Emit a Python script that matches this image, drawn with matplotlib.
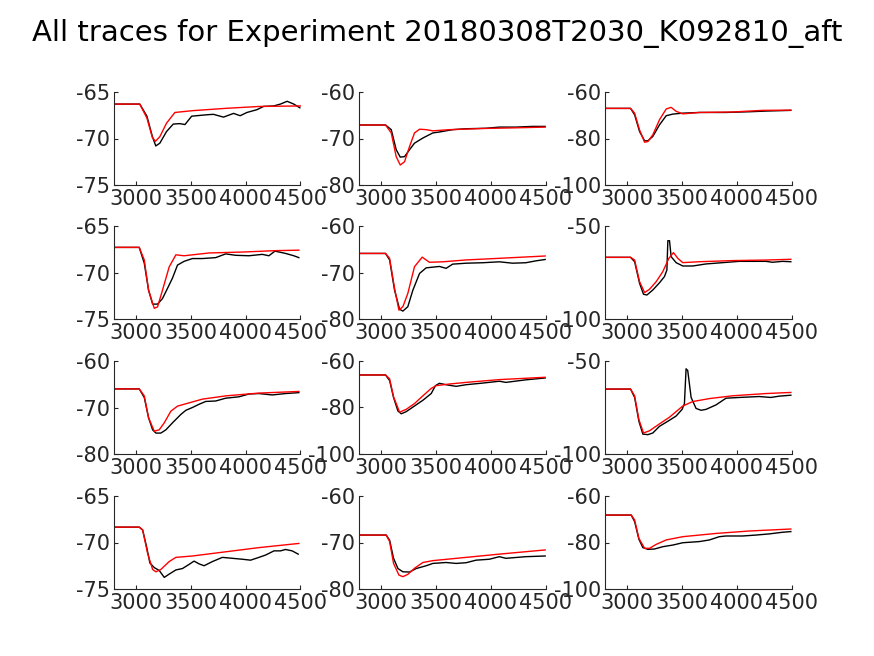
import numpy as np
import matplotlib
matplotlib.use('Agg')
import matplotlib.pyplot as plt

plt.rcParams['axes.unicode_minus'] = False

# x-limits and y-limits per panel (row-major, 4 x 3)
xlims = (2800, 4500)
xticks = [3000, 3500, 4000, 4500]
ylims = [(-75, -65), (-80, -60), (-100, -60),
         (-75, -65), (-80, -60), (-100, -50),
         (-80, -60), (-100, -60), (-100, -50),
         (-75, -65), (-80, -60), (-100, -60)]
yticks = [[-75, -70, -65], [-80, -70, -60], [-100, -80, -60],
          [-75, -70, -65], [-80, -70, -60], [-100, -50],
          [-80, -70, -60], [-100, -80, -60], [-100, -50],
          [-75, -70, -65], [-80, -70, -60], [-100, -80, -60]]

# recorded traces (black)
data_x = [
    [2800, 3035, 3100, 3150, 3181, 3218, 3279, 3340, 3400, 3447, 3508, 3645, 3706, 3798, 3890, 3950, 4012, 4103, 4164, 4256, 4317, 4378, 4439, 4494],
    [2800, 3042, 3094, 3139, 3176, 3215, 3261, 3306, 3382, 3473, 3533, 3654, 3776, 3957, 4079, 4230, 4382, 4497],
    [2800, 3033, 3070, 3115, 3161, 3191, 3236, 3297, 3358, 3418, 3509, 3661, 3903, 4115, 4267, 4494],
    [2800, 3030, 3076, 3115, 3152, 3197, 3242, 3288, 3333, 3379, 3439, 3515, 3606, 3727, 3818, 3909, 4030, 4152, 4212, 4267, 4364, 4439, 4485],
    [2800, 3042, 3079, 3124, 3170, 3200, 3245, 3291, 3352, 3412, 3533, 3594, 3654, 3776, 3927, 4079, 4200, 4321, 4412, 4497],
    [2800, 3033, 3070, 3115, 3151, 3182, 3236, 3297, 3342, 3364, 3373, 3388, 3403, 3448, 3509, 3600, 3721, 3873, 4024, 4267, 4327, 4418, 4494],
    [2800, 3030, 3076, 3115, 3152, 3182, 3227, 3273, 3333, 3409, 3455, 3515, 3576, 3636, 3727, 3818, 3939, 4030, 4121, 4242, 4364, 4485],
    [2800, 3042, 3079, 3115, 3155, 3185, 3230, 3306, 3382, 3458, 3497, 3533, 3594, 3685, 3776, 3927, 4079, 4139, 4321, 4497],
    [2800, 3033, 3070, 3109, 3145, 3191, 3236, 3297, 3373, 3448, 3503, 3524, 3539, 3554, 3585, 3630, 3676, 3721, 3812, 3903, 4024, 4206, 4312, 4388, 4494],
    [2800, 3030, 3061, 3097, 3127, 3167, 3212, 3258, 3303, 3364, 3424, 3485, 3530, 3576, 3621, 3697, 3788, 3879, 3970, 4045, 4121, 4182, 4258, 4318, 4364, 4424, 4479],
    [2800, 3048, 3079, 3115, 3155, 3200, 3261, 3321, 3412, 3473, 3594, 3685, 3776, 3867, 3988, 4079, 4139, 4321, 4497],
    [2800, 3039, 3070, 3109, 3145, 3191, 3251, 3327, 3418, 3509, 3661, 3752, 3842, 3903, 4054, 4176, 4297, 4418, 4494],
]
data_y = [
    [-66.3, -66.3, -67.6, -69.8, -70.8, -70.5, -69.25, -68.45, -68.4, -68.5, -67.6, -67.45, -67.4, -67.7, -67.3, -67.55, -67.2, -66.9, -66.55, -66.5, -66.3, -66.0, -66.3, -66.7],
    [-67.1, -67.1, -68.1, -72.4, -74.0, -73.9, -72.4, -71.0, -69.9, -68.8, -68.6, -68.1, -67.9, -67.8, -67.55, -67.55, -67.4, -67.4],
    [-67.05, -67.05, -69.8, -77.0, -81.0, -81.0, -79.1, -74.1, -70.2, -69.5, -69.1, -68.8, -68.8, -68.5, -68.2, -67.9],
    [-67.3, -67.3, -69.0, -71.9, -73.4, -73.4, -72.8, -71.7, -70.6, -69.2, -68.8, -68.5, -68.5, -68.4, -68.0, -68.15, -68.2, -68.05, -68.2, -67.7, -67.95, -68.2, -68.4],
    [-65.9, -65.9, -67.3, -73.8, -77.9, -78.3, -77.35, -73.8, -70.2, -69.0, -68.7, -69.1, -68.2, -68.0, -67.9, -67.7, -68.0, -67.9, -67.5, -67.2],
    [-66.85, -66.85, -69.2, -80.8, -86.7, -87.1, -84.4, -80.5, -77.2, -73.7, -57.9, -57.9, -66.5, -69.7, -71.5, -71.5, -70.4, -69.7, -69.0, -69.0, -69.5, -69.0, -69.2],
    [-66.0, -66.0, -67.85, -72.2, -74.8, -75.5, -75.5, -74.8, -73.3, -71.5, -70.6, -70.0, -69.3, -68.7, -68.6, -68.0, -67.7, -67.1, -67.0, -67.3, -67.0, -66.8],
    [-66.0, -66.0, -68.4, -75.7, -81.5, -82.7, -81.8, -79.35, -76.9, -74.0, -70.6, -69.6, -70.2, -70.9, -70.2, -69.5, -68.7, -69.2, -68.1, -67.3],
    [-65.1, -65.1, -69.6, -82.4, -89.3, -89.6, -88.7, -85.1, -82.4, -79.6, -76.0, -72.9, -54.2, -55.1, -69.6, -75.5, -76.5, -76.0, -73.6, -70.0, -69.6, -69.1, -69.6, -68.9, -68.4],
    [-68.35, -68.35, -68.65, -70.45, -72.2, -72.7, -73.0, -73.75, -73.4, -72.95, -72.8, -72.35, -72.0, -72.3, -72.5, -72.05, -71.6, -71.7, -71.8, -71.9, -71.6, -71.35, -70.9, -70.9, -70.75, -70.9, -71.25],
    [-68.4, -68.4, -69.5, -73.4, -75.6, -76.3, -76.35, -75.6, -75.0, -74.5, -74.3, -74.5, -74.35, -73.8, -73.6, -73.05, -73.4, -73.05, -72.9],
    [-68.2, -68.2, -71.0, -78.6, -82.2, -82.95, -82.8, -81.8, -81.1, -80.1, -79.6, -78.9, -77.5, -77.2, -77.2, -76.8, -76.3, -75.6, -75.3],
]

# fitted model traces (red)
fit_x = [
    [2800, 3035, 3100, 3150, 3178, 3218, 3279, 3355, 3523, 3829, 4134, 4500],
    [2800, 3042, 3094, 3139, 3176, 3215, 3261, 3306, 3352, 3412, 3473, 3624, 3927, 4230, 4497],
    [2800, 3033, 3070, 3115, 3161, 3191, 3236, 3297, 3358, 3403, 3448, 3509, 3661, 3964, 4236, 4494],
    [2800, 3030, 3076, 3115, 3167, 3197, 3242, 3303, 3364, 3439, 3667, 3970, 4273, 4485],
    [2800, 3042, 3079, 3124, 3164, 3200, 3245, 3306, 3376, 3442, 3564, 3776, 4079, 4497],
    [2800, 3033, 3070, 3115, 3161, 3206, 3267, 3327, 3382, 3424, 3464, 3509, 3661, 3964, 4267, 4494],
    [2800, 3030, 3076, 3115, 3167, 3212, 3258, 3318, 3379, 3455, 3606, 3818, 4121, 4485],
    [2800, 3042, 3079, 3115, 3170, 3230, 3306, 3382, 3458, 3503, 3624, 3776, 4079, 4497],
    [2800, 3033, 3070, 3109, 3151, 3206, 3297, 3388, 3509, 3600, 3752, 3964, 4267, 4494],
    [2800, 3030, 3061, 3106, 3152, 3182, 3227, 3303, 3364, 3515, 3818, 4121, 4485],
    [2800, 3048, 3079, 3115, 3164, 3200, 3245, 3306, 3382, 3473, 3776, 4079, 4497],
    [2800, 3039, 3070, 3109, 3161, 3206, 3267, 3358, 3509, 3812, 4115, 4494],
]
fit_y = [
    [-66.3, -66.3, -67.8, -69.9, -70.3, -69.8, -68.35, -67.2, -67.0, -66.75, -66.55, -66.5],
    [-67.1, -67.1, -68.8, -73.9, -75.7, -75.0, -71.7, -68.8, -68.0, -68.1, -68.35, -68.1, -67.85, -67.7, -67.55],
    [-67.05, -67.05, -69.1, -76.3, -81.6, -81.3, -78.4, -71.9, -67.3, -66.6, -68.3, -69.4, -68.8, -68.6, -67.9, -67.8],
    [-67.3, -67.3, -68.65, -71.9, -73.85, -73.7, -71.9, -69.4, -68.1, -68.2, -67.9, -67.8, -67.65, -67.6],
    [-65.9, -65.9, -66.95, -73.4, -78.1, -77.35, -74.5, -68.75, -66.7, -67.8, -67.7, -67.3, -66.95, -66.45],
    [-66.85, -66.85, -68.3, -79.9, -85.8, -84.0, -79.9, -74.5, -67.4, -64.3, -67.4, -69.7, -69.2, -68.6, -68.3, -67.9],
    [-66.0, -66.0, -67.5, -72.2, -75.1, -74.8, -73.3, -70.8, -69.7, -69.2, -68.2, -67.5, -66.9, -66.55],
    [-66.0, -66.0, -67.7, -75.4, -82.0, -80.8, -78.3, -75.0, -71.8, -70.6, -69.9, -69.2, -68.0, -67.0],
    [-65.1, -65.1, -68.7, -81.5, -88.7, -87.5, -83.8, -80.2, -74.2, -71.8, -70.2, -68.7, -67.5, -66.9],
    [-68.35, -68.35, -68.65, -71.15, -72.9, -73.15, -72.9, -72.05, -71.6, -71.45, -71.0, -70.55, -70.1],
    [-68.4, -68.4, -69.8, -74.5, -77.0, -77.35, -76.85, -75.55, -74.3, -73.9, -73.2, -72.5, -71.6],
    [-68.2, -68.2, -70.3, -78.2, -82.5, -82.5, -80.8, -78.9, -77.5, -76.1, -75.05, -74.2],
]

title = 'All traces for Experiment 20180308T2030_K092810_aft'

fig = plt.figure(figsize=(8.74, 6.56), dpi=100)
W, H = 874, 656
col_left = [114, 359, 605]
row_top = [92, 226, 361, 496]
ax_w, ax_h = 186.5, 93
dark = '#262626'

for i in range(12):
    r, c = divmod(i, 3)
    ax = fig.add_axes([col_left[c] / W, 1 - (row_top[r] + ax_h) / H, ax_w / W, ax_h / H])
    ax.plot(data_x[i], data_y[i], color='black', lw=1.0)
    ax.plot(fit_x[i], fit_y[i], color='red', lw=1.0)
    ax.set_xlim(xlims)
    ax.set_ylim(ylims[i])
    ax.set_xticks(xticks)
    ax.set_yticks(yticks[i])
    ax.spines['top'].set_visible(False)
    ax.spines['right'].set_visible(False)
    for s in ('left', 'bottom'):
        ax.spines[s].set_color(dark)
        ax.spines[s].set_linewidth(0.8)
    ax.tick_params(direction='in', length=3, width=0.8, colors=dark,
                   labelsize=15, pad=3)

fig.text(0.5, 1 - 33 / H, title, ha='center', va='center', fontsize=21, color='black')

fig.savefig('out.png', dpi=100)
